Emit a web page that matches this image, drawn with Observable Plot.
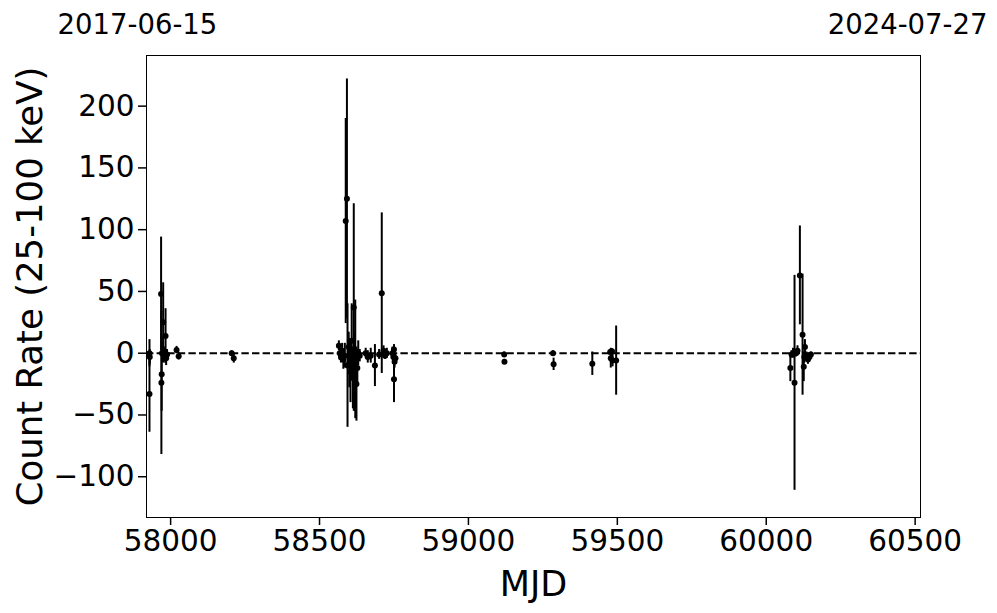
<!DOCTYPE html>
<html>
<head>
<meta charset="utf-8">
<script src="https://cdn.jsdelivr.net/npm/d3@7"></script>
<script src="https://cdn.jsdelivr.net/npm/@observablehq/plot@0.6"></script>
<style>
  html, body { margin: 0; padding: 0; background: #fff; }
  #chart svg { display: block; }
</style>
</head>
<body>
<div id="chart"></div>
<script>
// Observation epochs (MJD)
const mjd = [
  57929, 57929, 57930, 57968, 57969, 57970, 57971, 57975, 57977, 57980, 57983, 57985, 57988, 58020, 58027,
  58205, 58212,
  58565, 58568, 58572, 58576, 58580, 58585, 58588, 58592, 58594, 58598, 58600, 58604, 58608, 58612, 58615,
  58618, 58620, 58624, 58627, 58630, 58635, 58655, 58662, 58672, 58686, 58709, 58700, 58715, 58720, 58726,
  58745, 58748, 58750, 58750, 58752, 58755,
  59120, 59121, 59284, 59286, 59416, 59476, 59478, 59482, 59484, 59496,
  60081, 60085, 60090, 60095, 60100, 60105, 60113, 60122, 60126, 60128, 60130, 60135, 60140, 60145, 60150
];
// Count rate (25-100 keV)
const rate = [
  -33, 0, -3, 48, -24, -17, 0, 25, -2, 0, 14, -4, -1, 2.5, -2.5,
  0, -4,
  6, 0, -3, 2, -5, -2, 107, 125, -10, 5, -8, -15, 10, -20, 37,
  -15, -5, -25, -12, 0, -2, 0, -3, -2, -10, 48.6, -1, 2, -2, 0,
  0, -3, -21, 3, -7, -4,
  -1, -7, 0, -9, -8.5, 1, -4, 1.5, -6, -6,
  -12, -1, 0, -24, 0, 2, 63, 15, -11, -3, 5, -2, -5, -3, -1
];
// 1-sigma uncertainty
const err = [
  31, 11, 6, 46, 58, 30, 8, 32, 6, 5, 22, 6, 4, 3, 3,
  2, 4,
  4, 6, 5, 6, 8, 10, 83, 97, 50, 12, 20, 25, 30, 25, 84,
  32, 48, 30, 15, 10, 5, 4, 5, 6, 17, 65, 4, 4, 3, 4,
  5, 6, 19, 4, 5, 4,
  2, 2, 2, 5, 9.5, 2, 8, 2, 5, 28,
  11, 3, 4, 87, 3, 4, 40, 49, 12, 5, 6, 3, 4, 3, 2
];
const xTicks = [58000, 58500, 59000, 59500, 60000, 60500];
const yTicks = [-100, -50, 0, 50, 100, 150, 200];
const startLabel = "2017-06-15";
const endLabel = "2024-07-27";

const data = mjd.map((m, i) => ({mjd: m, rate: rate[i], lo: rate[i] - err[i], hi: rate[i] + err[i]}));

const font = "DejaVu Sans, sans-serif";
const fmt = d3.format("d");

const chart = Plot.plot({
  width: 997,
  height: 613,
  marginLeft: 146,
  marginRight: 77,
  marginTop: 55,
  marginBottom: 96,
  style: {fontFamily: font, background: "#fff", color: "#000", overflow: "visible"},
  x: {domain: [57919, 60518]},
  y: {domain: [-133, 241]},
  marks: [
    Plot.ruleY([0], {stroke: "#000", strokeWidth: 2, strokeDasharray: "7.4,3.2"}),
    Plot.ruleX(data, {x: "mjd", y1: "lo", y2: "hi", stroke: "#000", strokeWidth: 2}),
    Plot.dot(data, {x: "mjd", y: "rate", r: 3, fill: "#000", stroke: "none"}),
    Plot.frame({stroke: "#000", strokeWidth: 1}),
    Plot.axisX(xTicks, {tickFormat: fmt, tickSize: 8, tickPadding: 5, fontSize: 29.5, strokeWidth: 1.5, label: null}),
    Plot.axisY(yTicks, {tickFormat: fmt, tickSize: 8, tickPadding: 4, fontSize: 29.5, strokeWidth: 1.5, label: null}),
    Plot.text(["MJD"], {frameAnchor: "bottom", dy: 67, fontSize: 35, lineAnchor: "middle", fill: "#000"}),
    Plot.text(["Count Rate (25-100 keV)"], {frameAnchor: "left", dx: -116, rotate: -90, fontSize: 35.5, lineAnchor: "middle", textAnchor: "middle", fill: "#000"}),
    Plot.text([startLabel], {frameAnchor: "top-left", dx: -89, dy: -22, textAnchor: "start", lineAnchor: "bottom", fontSize: 27.5, fill: "#000"}),
    Plot.text([endLabel], {frameAnchor: "top-right", dx: 67, dy: -22, textAnchor: "end", lineAnchor: "bottom", fontSize: 27.5, fill: "#000"})
  ]
});
document.getElementById("chart").appendChild(chart);
</script>
</body>
</html>
